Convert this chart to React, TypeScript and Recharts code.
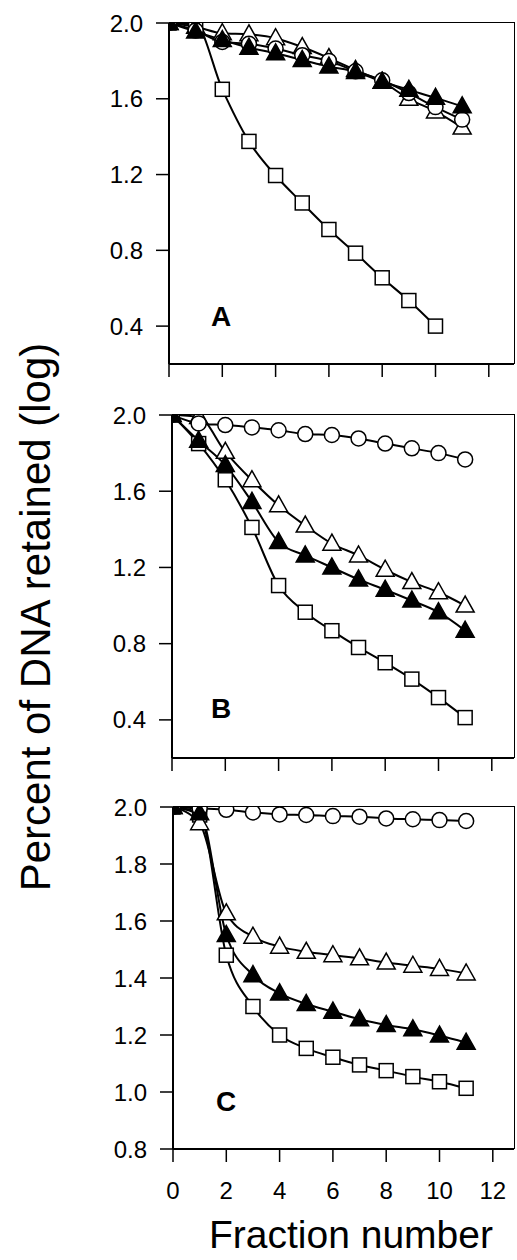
import { LineChart, Line, XAxis, YAxis } from 'recharts';

const fractions = [0, 1, 2, 3, 4, 5, 6, 7, 8, 9, 10, 11];
const xTicks = [0, 2, 4, 6, 8, 10, 12];
const ticksAB = [0.4, 0.8, 1.2, 1.6, 2.0];
const ticksC = [0.8, 1.0, 1.2, 1.4, 1.6, 1.8, 2.0];

// panel A
const aSquares = [2.0, 1.99, 1.65, 1.375, 1.195, 1.05, 0.91, 0.785, 0.655, 0.535, 0.4];
const aOpenTri = [2.0, 1.98, 1.946, 1.94, 1.92, 1.873, 1.815, 1.752, 1.69, 1.6, 1.533, 1.448];
const aCircles = [2.0, 1.96, 1.9, 1.89, 1.865, 1.83, 1.8, 1.745, 1.698, 1.63, 1.556, 1.49];
const aFilledTri = [2.0, 1.955, 1.91, 1.87, 1.84, 1.805, 1.77, 1.742, 1.69, 1.647, 1.605, 1.56];

// panel B
const bSquares = [2.0, 1.85, 1.66, 1.41, 1.105, 0.965, 0.868, 0.78, 0.7, 0.614, 0.517, 0.412];
const bOpenTri = [2.0, 1.99, 1.807, 1.658, 1.526, 1.42, 1.325, 1.263, 1.188, 1.123, 1.07, 1.0];
const bCircles = [2.0, 1.956, 1.947, 1.935, 1.92, 1.9, 1.895, 1.877, 1.85, 1.825, 1.8, 1.767];
const bFilledTri = [2.0, 1.865, 1.737, 1.544, 1.333, 1.263, 1.2, 1.137, 1.083, 1.026, 0.965, 0.868];

// panel C
const cSquares = [2.0, 1.972, 1.48, 1.3, 1.2, 1.153, 1.122, 1.095, 1.075, 1.054, 1.036, 1.013];
const cOpenTri = [2.0, 1.943, 1.627, 1.545, 1.51, 1.492, 1.48, 1.469, 1.454, 1.443, 1.432, 1.416];
const cCircles = [2.0, 1.995, 1.99, 1.981, 1.974, 1.972, 1.968, 1.966, 1.96, 1.957, 1.954, 1.951];
const cFilledTri = [2.0, 1.978, 1.551, 1.41, 1.346, 1.309, 1.282, 1.255, 1.235, 1.22, 1.198, 1.173];

const FONT = '"Liberation Sans", Arial, sans-serif';
const PX_PER_UNIT = 26.65;
const PLOT_RIGHT = 514;

const Square = (p: any) => {
  if (p.cx == null || p.cy == null || p.value == null) return <g key={p.index} />;
  return <rect key={p.index} x={p.cx - 7} y={p.cy - 7} width={14} height={14} fill="#fff" stroke="#000" strokeWidth={1.5} />;
};

const Circle = (p: any) => {
  if (p.cx == null || p.cy == null || p.value == null) return <g key={p.index} />;
  return <circle key={p.index} cx={p.cx} cy={p.cy} r={7.5} fill="#fff" stroke="#000" strokeWidth={1.5} />;
};

const tri = (filled: boolean) => (p: any) => {
  if (p.cx == null || p.cy == null || p.value == null) return <g key={p.index} />;
  const { cx, cy } = p;
  return (
    <polygon
      key={p.index}
      points={`${cx},${cy - 9.5} ${cx - 9},${cy + 6.5} ${cx + 9},${cy + 6.5}`}
      fill={filled ? '#000' : '#fff'}
      stroke="#000"
      strokeWidth={1.5}
    />
  );
};

interface PanelProps {
  top: number;
  bottom: number;
  left: number;
  yMin: number;
  yTicks: number[];
  squares: number[];
  openTri: number[];
  circles: number[];
  filledTri: number[];
  showXLabels: boolean;
}

const Panel = ({ top, bottom, left, yMin, yTicks, squares, openTri, circles, filledTri, showXLabels }: PanelProps) => {
  const data = fractions.map((f, i) => ({
    f,
    sq: squares[i] ?? null,
    ot: openTri[i] ?? null,
    ci: circles[i] ?? null,
    ft: filledTri[i] ?? null,
  }));
  const marginTop = 14;
  const xAxisH = showXLabels ? 60 : 22;
  const xMax = (PLOT_RIGHT - left) / PX_PER_UNIT;
  const h = marginTop + (bottom - top) + xAxisH;
  const tickStyle = { fill: '#000', fontSize: 24, fontFamily: FONT };
  return (
    <>
      <div style={{ position: 'absolute', left: 0, top: top - marginTop }}>
        <LineChart
          width={PLOT_RIGHT + 3}
          height={h}
          data={data}
          margin={{ top: marginTop, right: 3, bottom: 0, left: 0 }}
        >
          <XAxis
            dataKey="f"
            type="number"
            domain={[0, xMax]}
            ticks={xTicks}
            height={xAxisH}
            tickSize={13}
            tickMargin={20}
            tick={tickStyle}
            tickFormatter={(v: number) => (showXLabels ? String(v) : '')}
            axisLine={{ stroke: '#000', strokeWidth: 2 }}
            tickLine={{ stroke: '#000', strokeWidth: 1.5 }}
            allowDataOverflow
          />
          <YAxis
            type="number"
            domain={[yMin, 2.0]}
            ticks={yTicks}
            width={left}
            tickSize={13}
            tickMargin={13}
            tick={tickStyle}
            tickFormatter={(v: number) => v.toFixed(1)}
            axisLine={{ stroke: '#000', strokeWidth: 2 }}
            tickLine={{ stroke: '#000', strokeWidth: 1.5 }}
            allowDataOverflow
          />
          <Line dataKey="sq" type="monotone" stroke="#000" strokeWidth={2} dot={Square} activeDot={false} isAnimationActive={false} />
          <Line dataKey="ot" type="monotone" stroke="#000" strokeWidth={2} dot={tri(false)} activeDot={false} isAnimationActive={false} />
          <Line dataKey="ci" type="monotone" stroke="#000" strokeWidth={2} dot={Circle} activeDot={false} isAnimationActive={false} />
          <Line dataKey="ft" type="monotone" stroke="#000" strokeWidth={2} dot={tri(true)} activeDot={false} isAnimationActive={false} />
        </LineChart>
      </div>
      {/* frame: top and right edges of the plot box */}
      <div
        style={{
          position: 'absolute',
          left,
          top: top - 1,
          width: PLOT_RIGHT - left,
          height: bottom - top,
          borderTop: '1.5px solid #000',
          borderRight: '1.5px solid #000',
          pointerEvents: 'none',
        }}
      />
    </>
  );
};

export default function App() {
  return (
    <div
      style={{
        position: 'absolute',
        left: 0,
        top: 0,
        width: 517,
        height: 1256,
        overflow: 'hidden',
        background: '#fff',
        fontFamily: FONT,
      }}
    >
      <Panel top={23} bottom={364} left={169} yMin={0.2} yTicks={ticksAB}
        squares={aSquares} openTri={aOpenTri} circles={aCircles} filledTri={aFilledTri} showXLabels={false} />
      <Panel top={415} bottom={758} left={172} yMin={0.2} yTicks={ticksAB}
        squares={bSquares} openTri={bOpenTri} circles={bCircles} filledTri={bFilledTri} showXLabels={false} />
      <Panel top={807} bottom={1149} left={173} yMin={0.8} yTicks={ticksC}
        squares={cSquares} openTri={cOpenTri} circles={cCircles} filledTri={cFilledTri} showXLabels={true} />
      <svg width={517} height={1256} style={{ position: 'absolute', left: 0, top: 0, pointerEvents: 'none' }}>
        <text transform="translate(50,617) rotate(-90)" textAnchor="middle" fontSize={42} fontFamily={FONT} fill="#000">
          Percent of DNA retained (log)
        </text>
        <text x={351} y={1248} textAnchor="middle" fontSize={39} fontFamily={FONT} fill="#000">
          Fraction number
        </text>
        <text x={221} y={326} textAnchor="middle" fontSize={28} fontWeight="bold" fontFamily={FONT} fill="#000">A</text>
        <text x={221} y={718} textAnchor="middle" fontSize={28} fontWeight="bold" fontFamily={FONT} fill="#000">B</text>
        <text x={226} y={1111} textAnchor="middle" fontSize={28} fontWeight="bold" fontFamily={FONT} fill="#000">C</text>
      </svg>
    </div>
  );
}
